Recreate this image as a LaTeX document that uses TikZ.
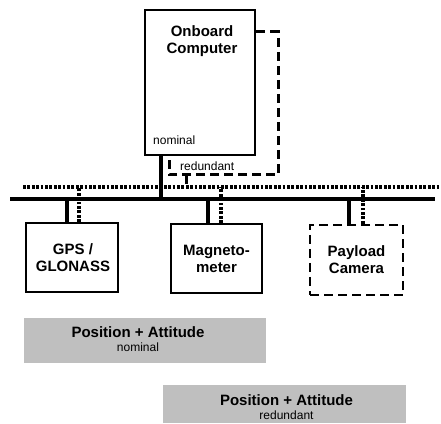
\documentclass[tikz,border=0pt]{standalone}
\usepackage{fontspec}
\setmainfont{Liberation Sans}
\usepackage{tikz}
\usetikzlibrary{positioning}

\begin{document}
\begin{tikzpicture}[x=1pt,y=1pt,
  unit/.style={draw,line width=2pt,inner sep=0pt},
  spareunit/.style={unit,dash pattern=on 9pt off 5pt,line width=2.6pt},
  title/.style={font=\bfseries\fontsize{15}{17}\selectfont,align=center},
  small/.style={font=\fontsize{12}{14}\selectfont,inner sep=1pt},
  nomline/.style={line width=3.8pt},
  redline/.style={line width=3.6pt,dash pattern=on 2.8pt off 1.6pt},
  redloop/.style={line width=3pt,dash pattern=on 9pt off 5pt},
  infobox/.style={fill=black!25,inner sep=0pt}]
\useasboundingbox (0,0) rectangle (441,423);
% buses
\coordinate (nomL) at (10,224);
\coordinate (nomR) at (435,224);
\coordinate (redL) at (23,236);
\coordinate (redR) at (441,236);
\draw[redline] (redL) -- (redR);
\draw[nomline] (nomL) -- (nomR);
% computer
\node[unit,minimum width=110pt,minimum height=145pt] (obc) at (200,340.5) {};
\node[title] (obct) at (202,381.5) {Onboard\\Computer};
\node[small,anchor=west] (nomt) at (152,283) {nominal};
\node[small,anchor=west] (redt) at (179,257) {redundant};
\coordinate (r1) at (256,391);
\coordinate (r2) at (278,248);
\coordinate (r3) at (169,267);
\coordinate (r4) at (186,248);
\draw[redloop] (r1) -| (r2) -| (r3);
\draw[redloop] (r4) -- (r4 |- redL);
\draw[nomline] (161,267) -- (161,224);
% units
\node[unit,minimum width=92pt,minimum height=69pt] (gps) at (72,165.5) {};
\node[title] (gpst) at (73,165) {GPS /\\GLONASS};
\node[unit,minimum width=91pt,minimum height=69pt] (mag) at (216.5,164.5) {};
\node[title] (magt) at (216.5,164.5) {Magneto-\\meter};
\node[spareunit,minimum width=93pt,minimum height=70pt] (cam) at (356.5,163) {};
\node[title] (camt) at (356.5,163) {Payload\\Camera};
\draw[nomline] ([xshift=-5pt]gps.north) -- ([xshift=-5pt]gps.north |- nomL);
\draw[redline] ([xshift=7pt]gps.north) -- ([xshift=7pt]gps.north |- redL);
\draw[nomline] ([xshift=-8.5pt]mag.north) -- ([xshift=-8.5pt]mag.north |- nomL);
\draw[redline] ([xshift=4.5pt]mag.north) -- ([xshift=4.5pt]mag.north |- redL);
\draw[nomline] ([xshift=-7.5pt]cam.north) -- ([xshift=-7.5pt]cam.north |- nomL);
\draw[redline] ([xshift=6.5pt]cam.north) -- ([xshift=6.5pt]cam.north |- redL);
% position + attitude
\node[infobox,minimum width=242pt,minimum height=45pt] (pan) at (145,82.5) {};
\node[title,inner sep=0pt] (pant) at (138,84) {Position + Attitude\\[-3pt]{\mdseries\fontsize{12}{14}\selectfont nominal}};
\node[infobox,minimum width=243pt,minimum height=38pt] (par) at (284.5,19) {};
\node[title,inner sep=0pt] (part) at (286.5,16) {Position + Attitude\\[-3pt]{\mdseries\fontsize{12}{14}\selectfont redundant}};
\end{tikzpicture}
\end{document}
